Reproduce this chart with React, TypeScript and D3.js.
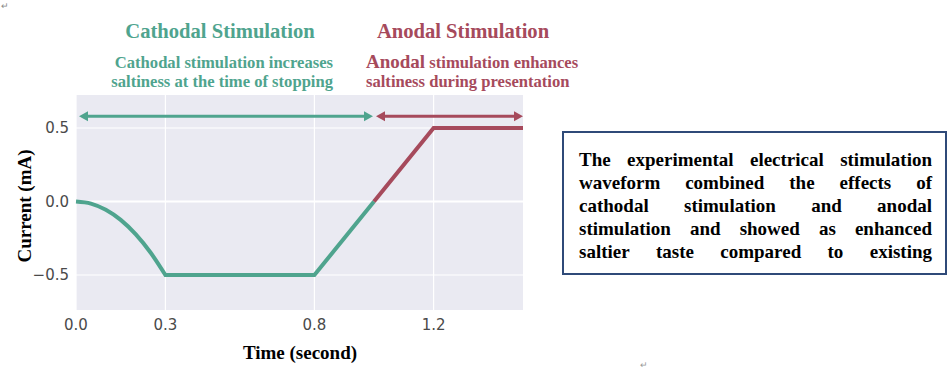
import { useMemo, useLayoutEffect, useRef } from 'react';
import * as d3 from 'd3';

const WIDTH = 950;
const HEIGHT = 369;
const PLOT = { left: 76, right: 523, top: 95, bottom: 310 };

const GREEN = '#4fa48e';
const RED = '#a64a5c';

// waveform (time in s, current in mA)
const rampTime = [0, 0.05, 0.1, 0.15, 0.2, 0.25, 0.3];
const rampCurrent = [0, -0.014, -0.056, -0.125, -0.222, -0.347, -0.5];
const cathodalTime = [0.3, 0.8, 1.0];
const cathodalCurrent = [-0.5, -0.5, 0];
const anodalTime = [1.0, 1.2, 1.5];
const anodalCurrent = [0, 0.5, 0.5];

const cathodalSpan = [0, 1.0];
const anodalSpan = [1.0, 1.5];
const arrowLevel = 0.58;

const xTicks = [0, 0.3, 0.8, 1.2];
const xTickLabels = ['0.0', '0.3', '0.8', '1.2'];
const yTicks = [0.5, 0, -0.5];
const yTickLabels = ['0.5', '0.0', '\u22120.5'];

const boxLines = [
    'The experimental electrical stimulation',
    'waveform combined the effects of',
    'cathodal stimulation and anodal',
    'stimulation and showed as enhanced',
    'saltier taste compared to existing',
];

const SERIF = "'Liberation Serif', 'Times New Roman', Tinos, 'DejaVu Serif', serif";
const serif = { fontFamily: SERIF, fontWeight: 'bold' as const };

// one <text> per word, spread so the line fills the box width
const JustifiedLine = ({ text, x0, x1, y }: { text: string; x0: number; x1: number; y: number }) => {
    const words = text.split(' ');
    const refs = useRef<(SVGTextElement | null)[]>([]);
    useLayoutEffect(() => {
        const els = refs.current.slice(0, words.length);
        const widths = els.map((el) => (el ? el.getComputedTextLength() : 0));
        const gap = words.length > 1 ? (x1 - x0 - d3.sum(widths)) / (words.length - 1) : 0;
        let x = x0;
        els.forEach((el, i) => {
            if (el) el.setAttribute('x', String(x));
            x += widths[i] + gap;
        });
    }, [text, x0, x1]);
    return (
        <g>
            {words.map((w, i) => (
                <text
                    key={i}
                    ref={(el) => {
                        refs.current[i] = el;
                    }}
                    x={x0}
                    y={y}
                    fontSize={19}
                    fill="#000"
                    style={serif}
                >
                    {w}
                </text>
            ))}
        </g>
    );
};

const Arrow = ({ x0, x1, y, color }: { x0: number; x1: number; y: number; color: string }) => {
    const head = 9;
    const hw = 5;
    return (
        <g>
            <line x1={x0 + head - 1} x2={x1 - head + 1} y1={y} y2={y} stroke={color} strokeWidth={3} />
            <path d={`M${x0},${y} L${x0 + head},${y - hw} L${x0 + head},${y + hw} Z`} fill={color} />
            <path d={`M${x1},${y} L${x1 - head},${y - hw} L${x1 - head},${y + hw} Z`} fill={color} />
        </g>
    );
};

export default function App() {
    const xScale = useMemo(
        () => d3.scaleLinear().domain([0, 1.5]).range([PLOT.left, PLOT.right]),
        []
    );
    const yScale = useMemo(
        () => d3.scaleLinear().domain([-0.738, 0.7245]).range([PLOT.bottom, PLOT.top]),
        []
    );

    const smooth = d3
        .line<[number, number]>()
        .x((d) => xScale(d[0]))
        .y((d) => yScale(d[1]))
        .curve(d3.curveMonotoneX);
    const straight = d3
        .line<[number, number]>()
        .x((d) => xScale(d[0]))
        .y((d) => yScale(d[1]));

    const rampPath = smooth(rampTime.map((t, i) => [t, rampCurrent[i]])) || '';
    const cathodalPath = (straight(cathodalTime.map((t, i) => [t, cathodalCurrent[i]])) || '').replace(/^M/, 'L');
    const anodalPath = straight(anodalTime.map((t, i) => [t, anodalCurrent[i]])) || '';

    const ay = yScale(arrowLevel);

    return (
        <svg
            width={WIDTH}
            height={HEIGHT}
            style={{ position: 'absolute', left: 0, top: 0, background: '#fff' }}
        >
            <text x={1} y={9} fontSize={9} fill="#888">↵</text>
            <text x={640} y={368} fontSize={9} fill="#999">↵</text>

            {/* headers */}
            <text x={220} y={38} textAnchor="middle" fontSize={20.6} fill={GREEN} style={serif}>
                Cathodal Stimulation
            </text>
            <text x={463} y={38} textAnchor="middle" fontSize={20.6} fill={RED} style={serif}>
                Anodal Stimulation
            </text>
            <text x={333} y={68} textAnchor="end" fontSize={16.6} fill={GREEN} style={serif}>
                Cathodal stimulation increases
            </text>
            <text x={333} y={87} textAnchor="end" fontSize={16.6} fill={GREEN} style={serif}>
                saltiness at the time of stopping
            </text>
            <text x={366} y={68} fontSize={16.6} fill={RED} style={serif}>
                <tspan fontSize={19}>Anodal</tspan> stimulation enhances
            </text>
            <text x={366} y={87} fontSize={16.6} fill={RED} style={serif}>
                saltiness during presentation
            </text>

            {/* plot area */}
            <rect
                x={PLOT.left}
                y={PLOT.top}
                width={PLOT.right - PLOT.left}
                height={PLOT.bottom - PLOT.top}
                fill="#eaeaf2"
            />
            {xTicks.map((t) => (
                <line key={t} x1={xScale(t)} x2={xScale(t)} y1={PLOT.top} y2={PLOT.bottom} stroke="#fff" strokeWidth={1.2} />
            ))}
            {yTicks.map((t) => (
                <line
                    key={t}
                    x1={PLOT.left}
                    x2={PLOT.right}
                    y1={yScale(t)}
                    y2={yScale(t)}
                    stroke="#fff"
                    strokeWidth={t === 0 ? 2 : 1.2}
                />
            ))}

            {/* waveform */}
            <path d={rampPath + cathodalPath} fill="none" stroke={GREEN} strokeWidth={4} strokeLinejoin="miter" />
            <path d={anodalPath} fill="none" stroke={RED} strokeWidth={4} strokeLinejoin="miter" />

            {/* span arrows */}
            <Arrow x0={xScale(cathodalSpan[0]) + 3} x1={xScale(cathodalSpan[1]) - 1} y={ay} color={GREEN} />
            <Arrow x0={xScale(anodalSpan[0]) + 2} x1={xScale(anodalSpan[1])} y={ay} color={RED} />

            {/* tick labels */}
            {xTicks.map((t, i) => (
                <text
                    key={t}
                    x={xScale(t)}
                    y={330}
                    textAnchor="middle"
                    fontFamily="DejaVu Sans"
                    fontSize={15}
                    fill="#4a4a4a"
                >
                    {xTickLabels[i]}
                </text>
            ))}
            {yTicks.map((t, i) => (
                <text
                    key={t}
                    x={69}
                    y={yScale(t)}
                    dy="0.36em"
                    textAnchor="end"
                    fontFamily="DejaVu Sans"
                    fontSize={15}
                    fill="#4a4a4a"
                >
                    {yTickLabels[i]}
                </text>
            ))}

            {/* axis titles */}
            <text x={300} y={359} textAnchor="middle" fontSize={19} fill="#000" style={serif}>
                Time (second)
            </text>
            <text
                transform="translate(31,206) rotate(-90)"
                textAnchor="middle"
                fontSize={19}
                fill="#000"
                style={serif}
            >
                Current (mA)
            </text>

            {/* note box */}
            <rect x={563} y={132} width={383} height={142} fill="#fff" stroke="#2f4a78" strokeWidth={2} />
            {boxLines.map((l, i) => (
                <JustifiedLine key={i} text={l} x0={579} x1={932} y={166 + i * 23} />
            ))}
        </svg>
    );
}
